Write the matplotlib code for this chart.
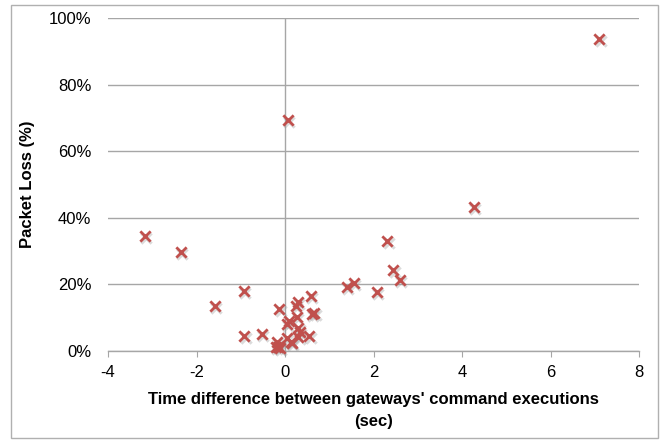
import matplotlib
matplotlib.use("Agg")
import matplotlib.pyplot as plt
from matplotlib.patches import Rectangle
from matplotlib.ticker import FuncFormatter

plt.rcParams['font.family'] = ['Liberation Sans', 'DejaVu Sans']
plt.rcParams['axes.unicode_minus'] = False

# time difference (sec) and packet loss (%)
time_diff = [7.10, -3.16, -2.36, 4.26, 2.31, 2.45, 2.60, 2.08, 1.40, 1.55,
             -0.93, -1.59, -0.92, -0.53, -0.13, 0.07, 0.58, 0.29, 0.24,
             0.60, 0.66, 0.26, 0.10, 0.04, 0.30, 0.34, 0.30, 0.55, 0.04,
             0.15, -0.19, -0.15, -0.12, -0.21, 0.13]
packet_loss = [93.6, 34.5, 29.7, 43.2, 33.0, 24.2, 21.3, 17.8, 19.1, 20.3,
               18.0, 13.6, 4.6, 5.1, 12.6, 69.4, 16.4, 14.7, 13.5,
               11.0, 11.3, 10.3, 9.1, 8.1, 6.8, 5.8, 4.1, 4.5, 4.0,
               2.3, 2.8, 1.3, 0.8, 1.3, 2.8]

x_ticks = [-4, -2, 0, 2, 4, 6, 8]
y_ticks = [0, 20, 40, 60, 80, 100]

grid_c = '#A6A6A6'
red = '#C0504D'

fig = plt.figure(figsize=(6.72, 4.43), dpi=100)
ax = fig.add_axes([108/672, 1-351/443, (639-108)/672, (351-18)/443])

# outer chart border
fig.patches.append(Rectangle((11/672, 5/443), 647/672, 433/443, transform=fig.transFigure,
                             fill=False, edgecolor='#B0B0B0', lw=1.0))

ax.set_xlim(-4, 8)
ax.set_ylim(0, 100)
ax.set_xticks(x_ticks)
ax.set_yticks(y_ticks)
ax.xaxis.set_major_formatter(FuncFormatter(lambda v, p: f"{v:.0f}"))
ax.yaxis.set_major_formatter(FuncFormatter(lambda v, p: f"{v:.0f}%"))

for y in y_ticks:
    ax.axhline(y, color=grid_c, lw=1.0, zorder=1)
ax.axvline(0, color=grid_c, lw=1.0, zorder=1)

for s in ['top', 'right', 'left']:
    ax.spines[s].set_visible(False)
ax.spines['bottom'].set_color(grid_c)
ax.spines['bottom'].set_linewidth(1.0)

ax.tick_params(axis='x', direction='out', length=4, color=grid_c, pad=6, labelsize=12)
ax.tick_params(axis='y', length=0, pad=12, labelsize=12)

# soft shadow then markers
ax.scatter([t + 0.03 for t in time_diff], [p - 0.6 for p in packet_loss], marker='x',
           s=55, linewidths=2.2, color='#999999', alpha=0.35, zorder=2, clip_on=False)
ax.scatter(time_diff, packet_loss, marker='x', s=55, linewidths=2.0,
           color=red, zorder=3, clip_on=False)

ax.set_xlabel("Time difference between gateways' command executions\n(sec)",
              fontsize=12, fontweight='bold', labelpad=9, linespacing=1.55)
ax.set_ylabel("Packet Loss (%)", fontsize=12, fontweight='bold', labelpad=10)

fig.savefig("out.png", dpi=100)
